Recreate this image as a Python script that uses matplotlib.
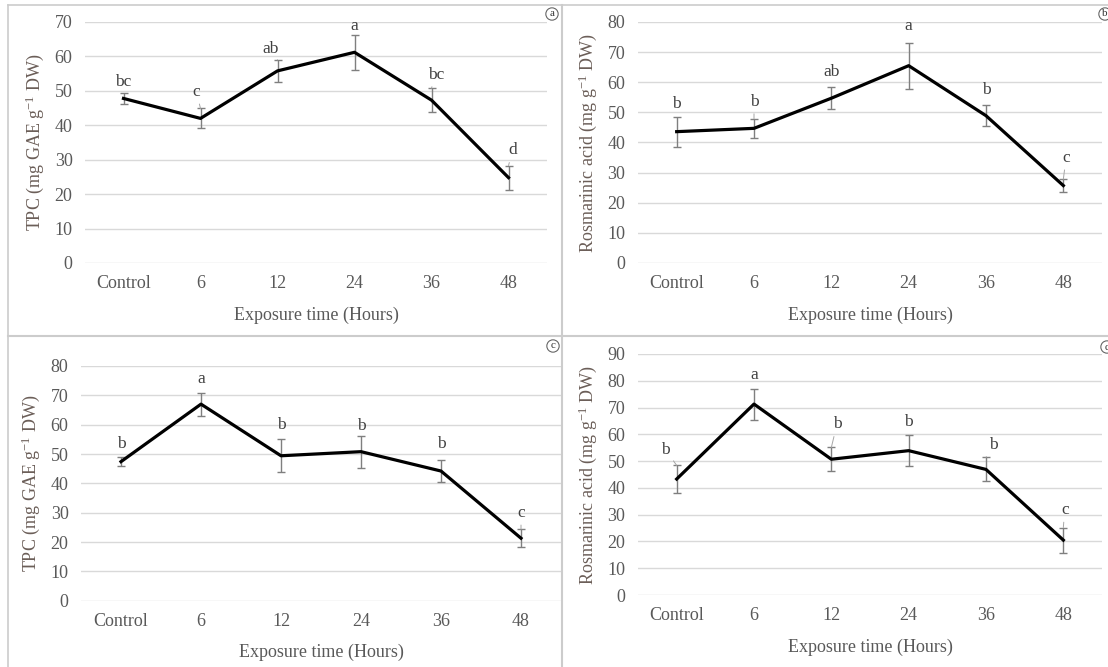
import matplotlib.pyplot as plt
from matplotlib.lines import Line2D

plt.rcParams['font.family'] = ['Liberation Serif', 'DejaVu Serif']
plt.rcParams['mathtext.fontset'] = 'custom'
plt.rcParams['mathtext.rm'] = 'Liberation Serif'
plt.rcParams['mathtext.it'] = 'Liberation Serif:italic'

times = ['Control', '6', '12', '24', '36', '48']
x_title = 'Exposure time (Hours)'
tpc_title = r'TPC (mg GAE g$^{-1}$ DW)'
ra_title = r'Rosmarinic acid (mg g$^{-1}$ DW)'

# (a) TPC
tpc_a = [47.8, 42.0, 55.8, 61.2, 47.3, 24.8]
tpc_a_err = [1.5, 2.9, 3.2, 5.0, 3.5, 3.5]
tpc_a_let = ['bc', 'c', 'ab', 'a', 'bc', 'd']

# (b) rosmarinic acid
ra_b = [43.6, 44.7, 54.7, 65.5, 48.9, 25.7]
ra_b_err = [5.0, 3.2, 3.6, 7.6, 3.4, 2.1]
ra_b_let = ['b', 'b', 'ab', 'a', 'b', 'c']

# (c) TPC
tpc_c = [47.4, 67.0, 49.4, 50.8, 44.2, 21.3]
tpc_c_err = [1.6, 3.9, 5.7, 5.4, 3.9, 3.1]
tpc_c_let = ['b', 'a', 'b', 'b', 'b', 'c']

# (d) rosmarinic acid
ra_d = [43.3, 71.3, 50.7, 53.9, 46.9, 20.5]
ra_d_err = [5.1, 5.8, 4.4, 5.9, 4.5, 4.7]
ra_d_let = ['b', 'a', 'b', 'b', 'b', 'c']

fig = plt.figure(figsize=(11.08, 6.67), dpi=100)
W, H = 1108, 667

def box(l, t, r, b):
    return [l / W, 1 - b / H, (r - l) / W, (b - t) / H]

panels = [
    # rect, values, errs, letters, ymax, ylabel, label dx, label dy, leaders
    (box(85, 22, 547, 263), tpc_a, tpc_a_err, tpc_a_let, 70, tpc_title,
     [0, -3, -5, 0, 3, 3], [5.5, 9, 5, 4, 6.8, 8], [1, 2, 4, 5]),
    (box(638, 22, 1102, 263), ra_b, ra_b_err, ra_b_let, 80, ra_title,
     [0, 0, 0, 0, 0, 2], [6.3, 9.4, 8, 9, 8.6, 12.6], [1, 5]),
    (box(81, 366, 561, 600.7), tpc_c, tpc_c_err, tpc_c_let, 80, tpc_title,
     [0, 0, 0, 0, 0, 0], [6.5, 7, 7, 4.3, 8.4, 8.8], [5]),
    (box(638, 354, 1102, 595), ra_d, ra_d_err, ra_d_let, 90, ra_title,
     [-8, 0, 4, 0, 5, 1], [8.4, 7.2, 13.7, 6.2, 6.3, 9.7], [0, 2, 4, 5]),
]

for rect, vals, errs, lets, ymax, ylab, dxs, dys, leads in panels:
    ax = fig.add_axes(rect)
    xs = list(range(len(times)))
    ax.errorbar(xs, vals, yerr=errs, fmt='none', ecolor='#7f7f7f',
                elinewidth=1, capsize=3, capthick=1, zorder=2)
    ax.plot(xs, vals, color='black', lw=2.3, zorder=3)
    for i in xs:
        top = vals[i] + errs[i]
        props = None
        if i in leads:
            props = dict(arrowstyle='-', color='#a6a6a6', lw=0.7,
                         shrinkA=1, shrinkB=0)
        ax.annotate(lets[i], xy=(i, top), xytext=(dxs[i], dys[i]),
                    textcoords='offset points', ha='center', va='baseline',
                    fontsize=12.5, color='#404040', arrowprops=props)
    ax.set_xlim(-0.5, len(times) - 0.5)
    ax.set_ylim(0, ymax)
    ax.set_yticks(range(0, ymax + 1, 10))
    ax.set_xticks(xs)
    ax.set_xticklabels(times)
    ax.grid(axis='y', color='#d9d9d9', lw=1)
    ax.set_axisbelow(True)
    for s in ax.spines.values():
        s.set_visible(False)
    ax.tick_params(length=0, labelsize=13, labelcolor='#595959')
    ax.tick_params(axis='x', pad=9)
    ax.tick_params(axis='y', pad=9)
    ax.set_xlabel(x_title, fontsize=13, color='#595959', labelpad=10)
    ax.set_ylabel(ylab, fontsize=13, color='#6b5e58', labelpad=6)

# panel frame lines
frame = '#cccccc'
fig.add_artist(Line2D([8 / W, 1], [1 - 5 / H, 1 - 5 / H], color=frame, lw=1.2))
fig.add_artist(Line2D([8 / W, 8 / W], [0, 1 - 5 / H], color=frame, lw=1.2))
fig.add_artist(Line2D([562 / W, 562 / W], [0, 1 - 5 / H], color=frame, lw=1.5))
fig.add_artist(Line2D([8 / W, 1], [1 - 336 / H, 1 - 336 / H], color=frame, lw=1.5))

# circled panel letters
for letter, px, py in [('a', 552, 14), ('b', 1105, 14), ('c', 553, 346), ('d', 1107, 347)]:
    fig.text(px / W, 1 - py / H, letter, fontsize=8, color='#333333',
             ha='center', va='center',
             bbox=dict(boxstyle='circle,pad=0.15', fc='white', ec='#666666', lw=0.8))

fig.savefig('out.png', dpi=100)
